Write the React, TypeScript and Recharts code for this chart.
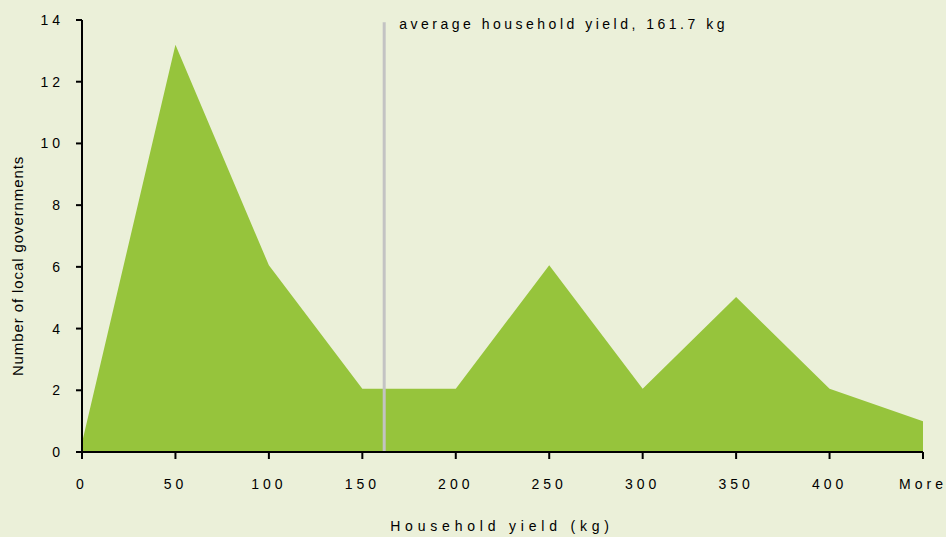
import React from 'react';
import { AreaChart, Area, XAxis, YAxis, ReferenceLine, Label } from 'recharts';

const binLabels = ['0', '50', '100', '150', '200', '250', '300', '350', '400', 'More'];
const binPositions = [0, 50, 100, 150, 200, 250, 300, 350, 400, 450];
const counts = [0.3, 13.2, 6.05, 2.05, 2.05, 6.05, 2.05, 5.02, 2.05, 1.0];
const yTicks = [0, 2, 4, 6, 8, 10, 12, 14];
const averageYield = 161.7;

const data = binPositions.map((x, i) => ({ x, label: binLabels[i], count: counts[i] }));

const BG = '#ebf0d9';
const GREEN = '#96c43c';
const FONT = '"Liberation Sans", Arial, Helvetica, sans-serif';

const fmtX = (v: number) => {
  const i = binPositions.indexOf(v);
  return i >= 0 ? binLabels[i] : String(v);
};

export default function App() {
  return (
    <div style={{ position: 'absolute', left: 0, top: 0, width: 946, height: 537, background: BG }}>
      <AreaChart width={946} height={537} data={data} margin={{ top: 20, right: 23, bottom: 0, left: 0 }}>
        <XAxis
          dataKey="x"
          type="number"
          domain={[0, 450]}
          ticks={binPositions}
          tickFormatter={fmtX}
          height={85}
          axisLine={{ stroke: '#000', strokeWidth: 2 }}
          tickLine={{ stroke: '#000', strokeWidth: 2 }}
          tickSize={7}
          tickMargin={20}
          tick={{ fill: '#000', fontSize: 14, fontFamily: FONT, letterSpacing: 4 }}
          interval={0}
        >
          <Label
            content={() => (
              <text x={502} y={531} textAnchor="middle" fill="#000" fontSize={14} fontFamily={FONT} letterSpacing={4.8}>
                Household yield (kg)
              </text>
            )}
          />
        </XAxis>
        <YAxis
          type="number"
          domain={[0, 14]}
          ticks={yTicks}
          width={82}
          axisLine={{ stroke: '#000', strokeWidth: 2 }}
          tickLine={{ stroke: '#000', strokeWidth: 2 }}
          tickSize={6}
          tickMargin={12}
          tick={{ fill: '#000', fontSize: 14, fontFamily: FONT, letterSpacing: 4 }}
          interval={0}
        >
          <Label
            content={() => (
              <text
                x={23}
                y={266}
                transform="rotate(-90 23 266)"
                textAnchor="middle"
                fill="#000"
                fontSize={15}
                fontFamily={FONT}
                letterSpacing={0.9}
              >
                Number of local governments
              </text>
            )}
          />
        </YAxis>
        <Area
          type="linear"
          dataKey="count"
          stroke="none"
          fill={GREEN}
          fillOpacity={1}
          isAnimationActive={false}
        />
        <ReferenceLine
          segment={[{ x: averageYield, y: 13.93 }, { x: averageYield, y: 0 }]}
          stroke="#c3c3c3"
          strokeWidth={3}
        >
          <Label
            content={(props: any) => {
              const vb = props.viewBox || { x: 0, y: 0 };
              return (
                <text x={vb.x + 15} y={vb.y + 7} fill="#000" fontSize={14} fontFamily={FONT} letterSpacing={3.5}>
                  average household yield, 161.7 kg
                </text>
              );
            }}
          />
        </ReferenceLine>
      </AreaChart>
    </div>
  );
}
